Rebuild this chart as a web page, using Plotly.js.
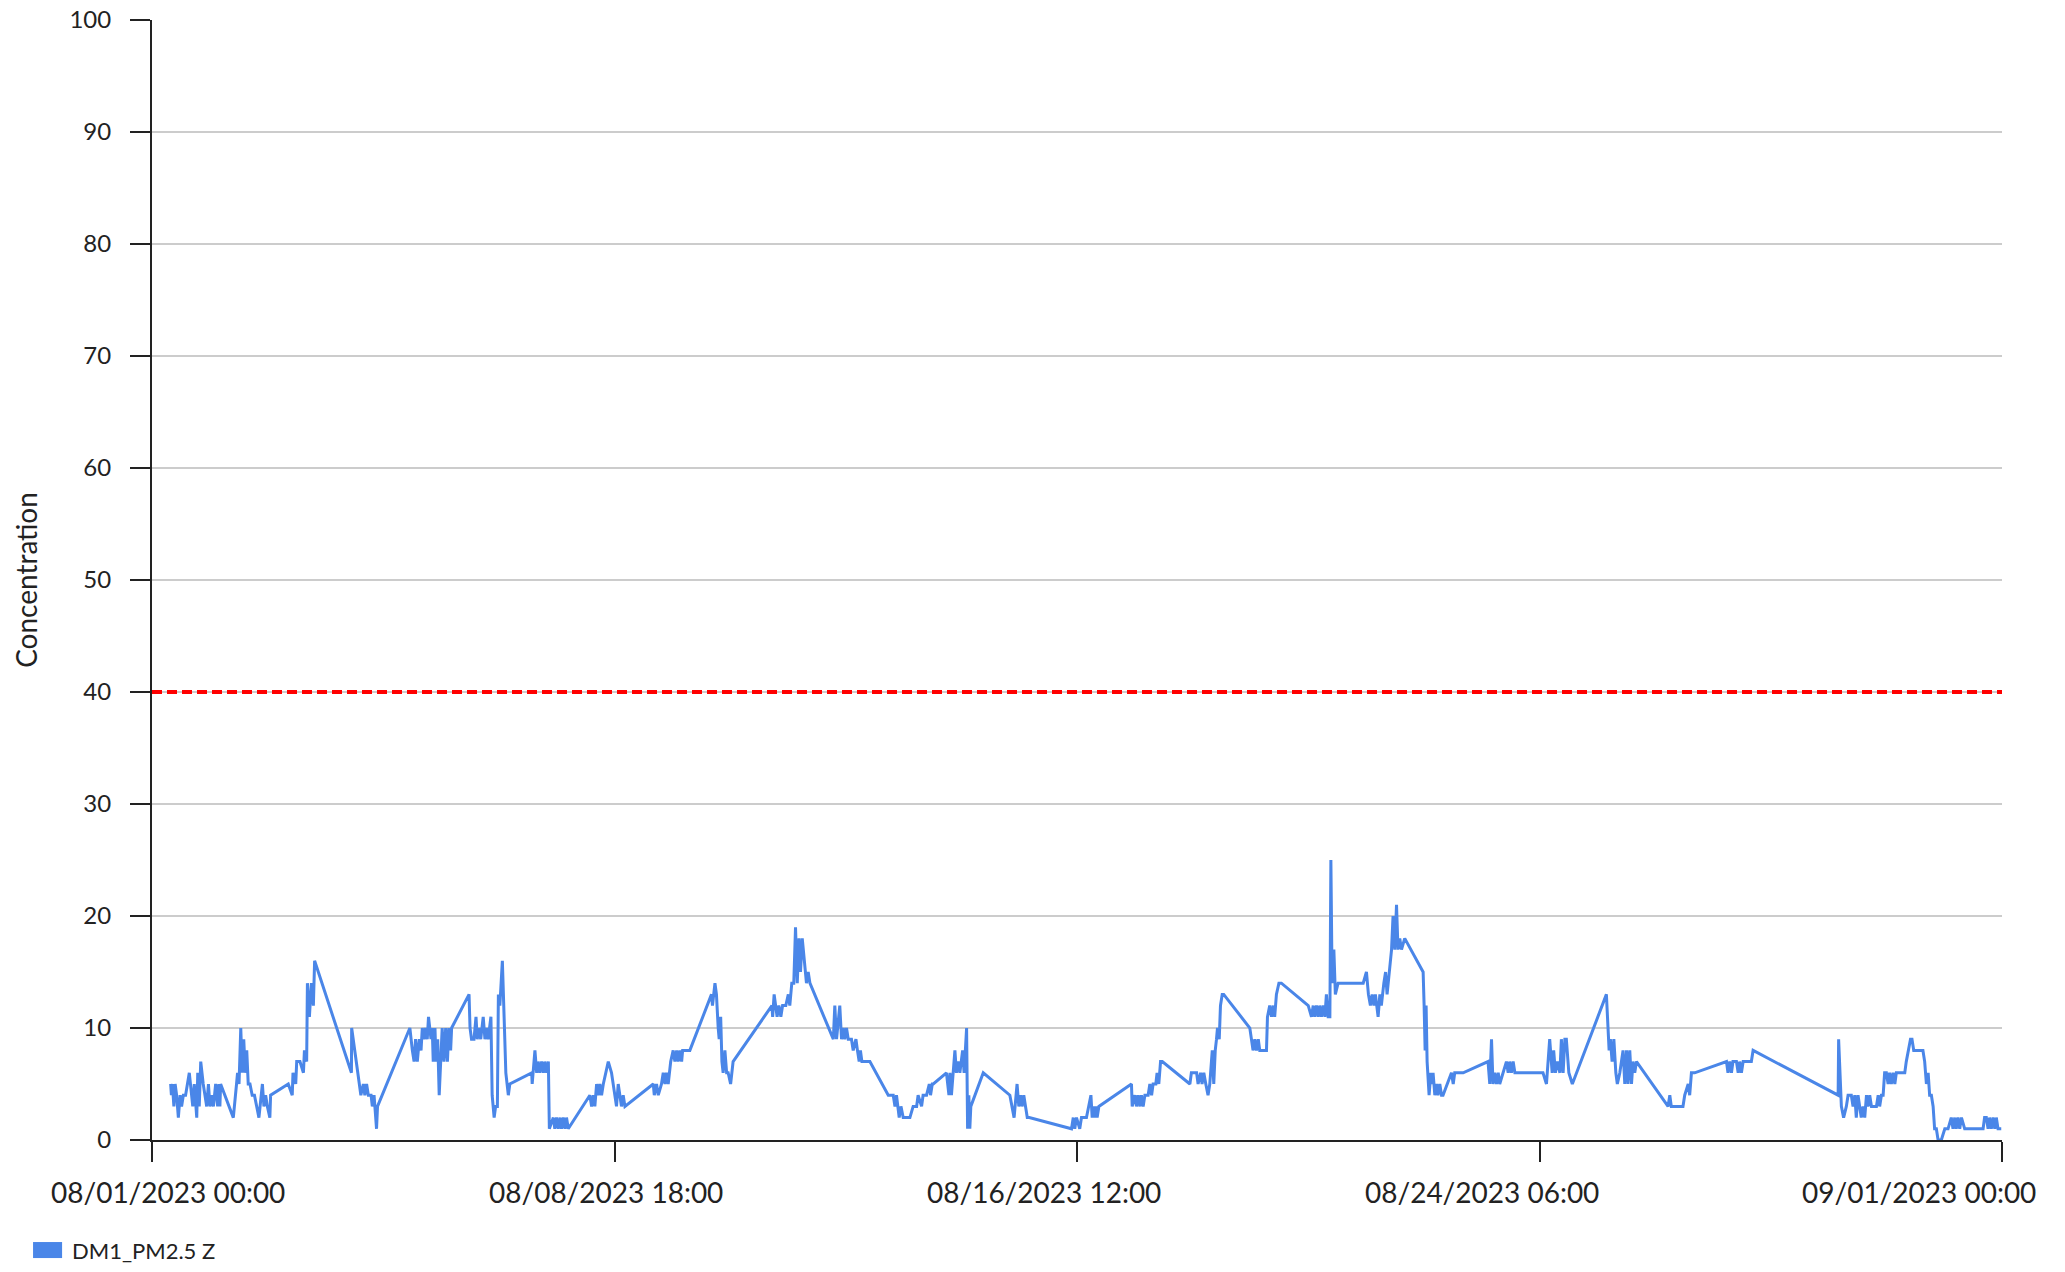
<!DOCTYPE html>
<html>
<head>
<meta charset="utf-8">
<script src="https://cdn.plot.ly/plotly-3.0.1.min.js"></script>
<style>
  html, body { margin: 0; padding: 0; background: #ffffff; }
  #chart { width: 2065px; height: 1272px; }
</style>
</head>
<body>
<div id="chart"></div>
<script>
// ---- Data ----
const seriesName = "DM1_PM2.5 Z";
const startDate = "2023-08-01 00:00";
const endDate = "2023-09-01 00:00";
// hours elapsed since 08/01/2023 00:00
const hoursSinceStart = [
  7.5,7.8,8.2,8.8,9.3,9.9,10.6,11.3,11.9,12.6,13.5,15.0,16.4,17.0,18.0,18.4,19.0,19.6,20.6,22.0,
  22.7,23.3,24.0,24.7,25.6,26.4,26.9,27.3,27.6,32.7,34.0,34.4,35.0,35.7,36.3,36.9,37.5,38.1,38.7,39.4,
  40.3,41.2,43.0,44.4,45.0,45.7,46.4,47.4,47.7,54.8,56.4,56.7,57.8,58.2,59.5,60.9,61.3,62.2,62.5,63.3,
  64.1,64.9,65.4,80.2,80.3,84.0,85.0,85.6,86.3,87.0,88.1,88.6,89.3,89.7,90.3,90.7,103.7,104.7,105.4,106.0,
  106.7,107.5,108.2,108.7,109.4,110.0,110.7,111.2,112.2,112.7,113.1,113.8,114.2,114.9,115.5,116.7,117.4,118.1,118.8,119.4,
  120.1,120.5,127.5,127.9,128.5,129.5,130.3,130.8,131.5,132.2,133.2,133.9,134.6,135.2,136.3,136.8,137.6,138.2,138.9,139.3,
  139.9,140.9,141.4,142.3,143.3,143.9,152.7,152.9,154.0,154.7,155.3,156.0,156.7,157.4,158.0,158.7,159.4,159.8,161.4,162.0,
  162.7,163.4,164.1,164.7,165.4,166.1,166.7,167.4,176.1,176.8,177.5,178.1,178.8,179.5,180.1,180.8,181.5,183.5,184.8,185.5,
  186.2,186.8,187.5,188.2,188.8,189.5,190.2,201.6,202.0,202.9,203.6,204.9,205.6,206.3,206.9,207.6,208.6,209.6,210.3,211.0,
  211.6,212.3,213.0,213.4,216.3,225.0,225.4,226.4,227.0,227.7,228.1,228.7,229.2,229.7,230.4,231.1,231.7,232.7,233.7,249.3,
  249.6,250.2,251.4,252.1,252.9,253.6,254.9,255.9,256.5,257.3,258.1,258.8,259.5,260.2,260.8,261.5,262.3,263.2,263.9,264.6,
  274.0,274.6,275.3,276.6,277.3,278.0,278.6,279.3,280.0,281.3,282.0,283.1,283.7,284.4,284.9,285.5,288.7,296.1,298.1,298.8,
  299.4,300.5,301.2,302.1,304.8,306.1,307.5,308.1,309.5,310.1,311.5,312.6,313.1,313.8,314.2,319.5,320.5,320.9,321.5,322.2,
  322.9,323.5,324.2,324.9,325.6,326.0,326.6,327.6,328.0,328.5,328.9,329.3,334.3,345.0,346.7,347.9,348.6,349.3,349.9,350.6,
  351.3,352.0,352.8,369.8,370.5,371.1,371.8,373.1,373.8,375.8,377.6,378.1,378.5,379.2,379.6,380.1,380.8,393.9,394.2,395.3,
  395.9,396.6,397.3,397.9,398.6,399.3,400.6,401.3,402.0,402.6,403.7,404.2,404.9,405.6,406.3,417.4,418.0,420.1,420.7,421.7,
  422.3,423.0,423.8,424.7,425.4,426.4,427.0,427.6,428.1,428.5,429.2,429.7,430.4,431.0,441.5,442.2,442.8,443.5,444.2,444.9,
  445.5,446.9,448.2,448.6,449.5,450.2,450.9,451.5,452.2,453.2,454.2,465.0,466.3,467.0,467.6,468.3,469.0,469.6,470.3,471.0,
  471.7,472.3,473.0,473.7,474.1,474.6,475.3,475.9,477.0,487.1,488.4,489.2,490.0,490.7,491.4,492.0,493.1,493.8,494.4,495.4,
  496.1,496.7,497.5,498.5,499.1,499.8,500.5,501.1,501.8,502.5,503.8,511.2,511.6,512.0,512.4,512.8,513.6,514.3,514.8,515.2,
  515.9,516.6,517.2,517.9,518.6,519.2,522.6,523.3,523.9,527.3,537.3,538.0,538.7,539.3,540.0,540.7,541.4,542.0,544.7,545.4,
  546.0,546.7,547.4,548.1,559.4,560.8,562.1,563.1,563.7,564.4,565.2,566.2,566.8,567.5,568.2,568.8,569.8,571.2,584.9,586.0,
  586.5,587.2,587.9,588.7,589.3,590.3,591.6,592.3,593.0,593.6,594.3,595.0,595.6,596.3,597.0,609.7,610.4,611.0,615.7,616.4,
  617.8,618.4,619.1,620.4,633.2,633.8,634.5,635.2,635.8,637.2,637.9,638.5,639.2,639.9,643.2,643.9,678.1,678.3,679.4,680.3,
  681.4,682.1,683.4,684.1,684.8,685.4,686.1,686.8,687.4,688.1,688.8,689.5,690.1,690.8,691.5,693.5,694.2,694.8,695.5,696.2,
  696.8,697.5,698.2,698.8,699.5,700.2,700.9,701.5,704.9,705.5,706.2,707.2,707.8,708.5,709.6,712.2,712.9,713.6,714.3,714.9,
  715.6,716.3,716.9,717.6,718.3,719.6,721.0,722.3,723.6,724.3,725.0,725.6,726.3,727.0,727.7,729.0,736.4,737.0,737.7,738.4,
  739.0,739.7,740.4,741.1,741.7,742.4,743.7
];
const concentration = [
  5,4,5,3,5,4,2,4,3,4,4,6,3,5,2,6,3,7,5,3,
  5,3,4,3,5,3,5,3,5,2,5,6,5,10,6,9,6,8,5,5,
  4,4,2,5,3,4,3,2,4,5,4,6,5,7,7,6,8,7,14,11,
  14,12,16,6,10,4,5,4,5,4,4,3,4,3,1,3,10,8,7,9,
  7,9,8,10,9,10,9,11,9,10,7,10,7,9,4,10,7,10,7,10,
  8,10,13,10,9,9,11,9,10,9,11,9,10,9,11,4,2,3,3,13,
  12,16,12,6,4,5,6,5,8,6,7,6,7,6,7,6,7,1,2,1,
  2,1,2,1,2,1,2,1,4,3,4,3,5,4,5,4,5,7,6,5,
  4,3,5,4,3,4,3,5,4,5,4,5,6,5,6,5,7,8,7,8,
  7,8,7,8,8,13,12,14,13,10,9,11,7,6,8,6,6,5,7,12,
  11,13,11,12,11,12,12,13,12,14,14,19,14,18,15,18,16,14,15,14,
  9,12,9,12,9,10,9,10,9,9,8,9,8,7,8,7,7,4,4,3,
  4,2,3,2,2,3,3,4,3,4,4,5,4,5,5,6,4,6,4,6,
  8,6,7,6,7,8,6,10,1,4,1,3,6,4,2,5,3,4,3,4,
  3,2,2,1,2,1,2,1,2,2,4,2,3,2,3,2,3,5,3,4,
  3,4,3,4,3,4,4,5,4,5,5,6,5,7,7,5,6,6,5,6,
  5,6,5,4,5,8,5,8,9,10,9,12,13,13,10,9,8,9,8,9,
  8,8,8,11,12,11,12,11,13,14,14,12,11,12,11,12,11,12,11,12,
  11,13,11,11,25,14,17,13,14,14,15,13,12,13,12,13,11,13,12,14,
  15,13,15,17,20,17,21,17,18,17,18,15,12,8,12,7,4,6,5,6,
  4,5,4,5,4,4,6,5,6,6,7,5,9,5,6,5,6,5,7,6,
  7,6,7,6,6,5,9,6,8,6,7,6,9,6,9,9,6,5,13,8,
  9,7,9,6,5,6,8,5,8,5,8,5,7,6,7,3,4,3,3,4,
  5,4,6,6,7,6,7,6,7,7,6,7,6,7,7,8,4,9,3,2,
  3,4,4,3,4,2,4,3,2,3,2,4,3,4,3,3,4,3,4,4,
  6,6,5,6,5,6,5,6,6,7,8,9,9,8,8,8,7,5,6,4,
  4,3,1,1,0,0,1,1,2,1,2,1,2,1,2,1,1,2,2,1,
  2,1,2,1,2,1,1
];
const thresholdValue = 40;
const tickDates = ["2023-08-01 00:00", "2023-08-08 18:00", "2023-08-16 12:00", "2023-08-24 06:00", "2023-09-01 00:00"];
const tickLabels = ["08/01/2023 00:00", "08/08/2023 18:00", "08/16/2023 12:00", "08/24/2023 06:00", "09/01/2023 00:00"];
const yTickValues = [0, 10, 20, 30, 40, 50, 60, 70, 80, 90, 100];
const yAxisTitle = "Concentration";

// convert hour offsets into date strings for the date axis
function pad(n) { return (n < 10 ? "0" : "") + n; }
const startMs = Date.UTC(2023, 7, 1, 0, 0);
const timeStamps = hoursSinceStart.map(function (h) {
  const d = new Date(startMs + Math.round(h * 60) * 60000);
  return d.getUTCFullYear() + "-" + pad(d.getUTCMonth() + 1) + "-" + pad(d.getUTCDate()) +
         " " + pad(d.getUTCHours()) + ":" + pad(d.getUTCMinutes());
});

const lineColor = "#4a86e8";
const fontFamily = "Lato, 'Open Sans', sans-serif";
const textColor = "#222222";

// tick labels are spread evenly across the chart width (like the reference),
// not centred on their tick marks
const labelPaperX = [0.0086, 0.2454, 0.4822, 0.7189, 0.9551];
const tickLabelAnnotations = tickLabels.map(function (t, i) {
  return {
    xref: "paper", yref: "paper", x: labelPaperX[i], y: -0.0464,
    xanchor: "center", yanchor: "middle", showarrow: false,
    text: t, font: { family: fontFamily, size: 28, color: textColor }
  };
});

const trace = {
  type: "scatter",
  mode: "lines",
  name: seriesName,
  x: timeStamps,
  y: concentration,
  line: { color: lineColor, width: 3 },
  showlegend: false,
  hoverinfo: "x+y"
};

const layout = {
  width: 2065,
  height: 1272,
  margin: { l: 152, r: 63, t: 20, b: 132, pad: 0 },
  paper_bgcolor: "#ffffff",
  plot_bgcolor: "#ffffff",
  font: { family: fontFamily, color: textColor, size: 24 },
  showlegend: false,
  xaxis: {
    type: "date",
    range: [startDate, endDate],
    tickmode: "array",
    tickvals: tickDates,
    ticktext: tickLabels,
    showticklabels: false,
    ticks: "outside",
    ticklen: 20,
    tickwidth: 2,
    tickcolor: textColor,
    showline: true,
    linecolor: textColor,
    linewidth: 2,
    showgrid: false,
    zeroline: false
  },
  yaxis: {
    range: [0, 100],
    tickmode: "array",
    tickvals: yTickValues,
    ticks: "outside",
    ticklen: 20,
    tickwidth: 2,
    tickcolor: textColor,
    showline: true,
    linecolor: textColor,
    linewidth: 2,
    showgrid: true,
    gridcolor: "#cccccc",
    gridwidth: 2,
    zeroline: false,
    tickfont: { family: fontFamily, size: 24, color: textColor },
    ticklabelstandoff: 14,
    title: { text: yAxisTitle, font: { family: fontFamily, size: 28, color: textColor }, standoff: 24 }
  },
  shapes: [
    {
      type: "line", xref: "paper", yref: "y",
      x0: 0, x1: 1, y0: thresholdValue, y1: thresholdValue,
      line: { color: "#ff0000", width: 4, dash: "10px,5px" },
      layer: "above"
    },
    {
      type: "rect", xref: "paper", yref: "paper",
      x0: -0.0643, x1: -0.0486, y0: -0.1054, y1: -0.0911,
      fillcolor: lineColor, line: { width: 0 }
    }
  ],
  annotations: tickLabelAnnotations.concat([
    {
      xref: "paper", yref: "paper", x: -0.0445, y: -0.0985,
      xanchor: "left", yanchor: "middle", showarrow: false,
      text: seriesName,
      font: { family: fontFamily, size: 22, color: textColor }
    }
  ])
};

Plotly.newPlot("chart", [trace], layout, { displayModeBar: false, staticPlot: true });
</script>
</body>
</html>
